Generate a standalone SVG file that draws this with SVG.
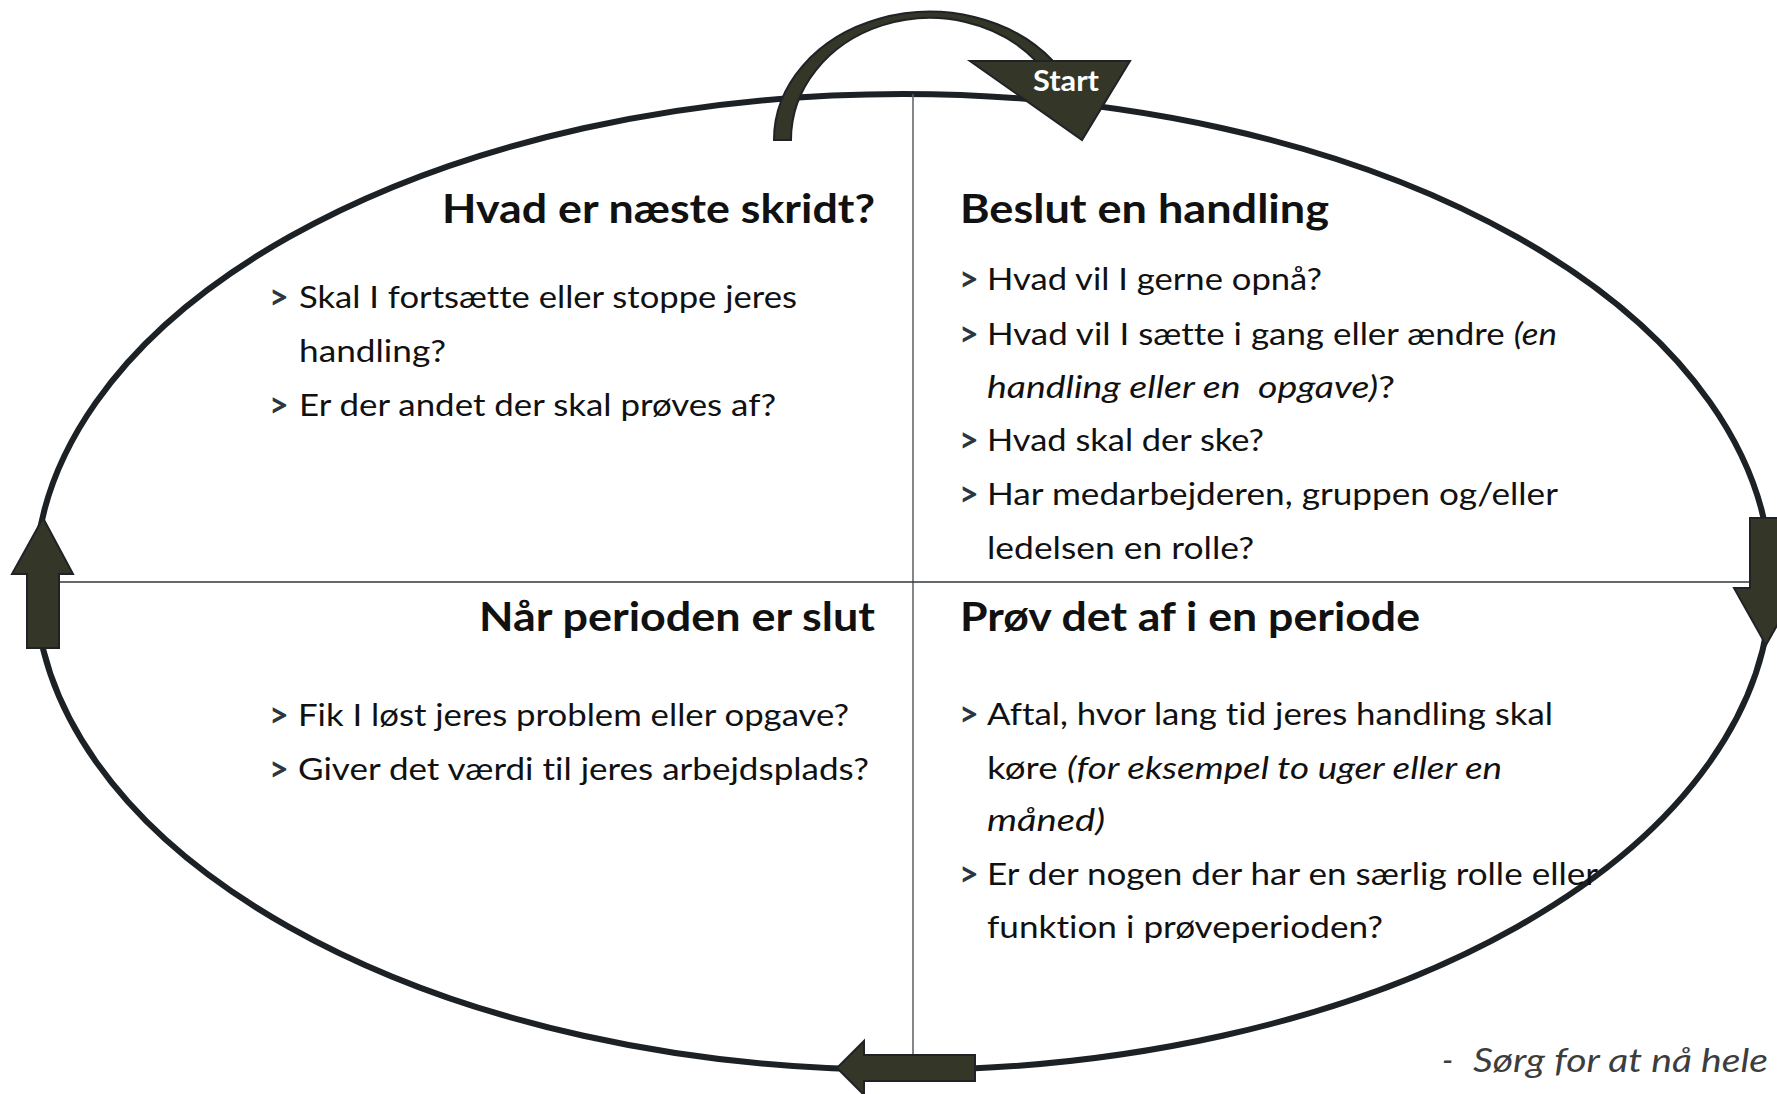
<svg xmlns="http://www.w3.org/2000/svg" width="1777" height="1094" viewBox="0 0 1777 1094">
<style>
text{font-variant-ligatures:none}
.h{font-family:Lato,"Noto Sans",sans-serif;font-weight:700;font-size:41px;fill:#111}
.b{font-family:Lato,"Noto Sans",sans-serif;font-size:31px;fill:#111}
.g{font-family:Lato,"Noto Sans",sans-serif;font-size:34px;font-weight:700;fill:#2d3640}
.i{font-style:italic}
.arr{fill:#343727;stroke:#1f2328;stroke-width:2;stroke-linejoin:miter}
</style>
<rect width="1777" height="1094" fill="#fff"/>
<g id="cycle">
<ellipse cx="903" cy="582" rx="868" ry="488" fill="none" stroke="#1c2126" stroke-width="6"/>
<line x1="913" y1="94" x2="913" y2="1055" stroke="#5a5f63" stroke-width="1.5"/>
<line x1="59" y1="582" x2="1750" y2="582" stroke="#33383c" stroke-width="1.5"/>
</g>
<g id="connectors">
<path class="arr" d="M774,140 A156,128 0 0 1 1053,61 L1036,61 A139,122 0 0 0 791,140 Z"/>
<polygon class="arr" points="43,518 73,574 59,574 59,648 27,648 27,574 12,574"/>
<polygon class="arr" points="1750,518 1782,518 1782,588 1798,588 1766,645 1734,588 1750,588"/>
<polygon class="arr" points="837,1068 864,1041 864,1055 975,1055 975,1081 864,1081 864,1095"/>
</g>
<g id="start">
<polygon class="arr" points="970,61 1130,61 1082,140"/>
<text x="1066" y="91" text-anchor="middle" font-family="Lato,'Noto Sans',sans-serif" font-weight="700" font-size="28" fill="#fff" textLength="66" lengthAdjust="spacingAndGlyphs">Start</text>
</g>
<g id="q-next">
<text class="h" x="442" y="223" textLength="433" lengthAdjust="spacingAndGlyphs">Hvad er næste skridt?</text>
<text class="g" x="269" y="309">&gt;</text><text class="b" x="299" y="308" textLength="498" lengthAdjust="spacingAndGlyphs">Skal I fortsætte eller stoppe jeres</text>
<text class="b" x="299" y="362" textLength="147" lengthAdjust="spacingAndGlyphs">handling?</text>
<text class="g" x="269" y="417">&gt;</text><text class="b" x="299" y="416" textLength="477" lengthAdjust="spacingAndGlyphs">Er der andet der skal prøves af?</text>
</g>
<g id="q-decide">
<text class="h" x="960" y="223" textLength="369" lengthAdjust="spacingAndGlyphs">Beslut en handling</text>
<text class="g" x="959" y="291">&gt;</text><text class="b" x="987" y="290" textLength="335" lengthAdjust="spacingAndGlyphs">Hvad vil I gerne opnå?</text>
<text class="g" x="959" y="346">&gt;</text><text class="b" x="987" y="345" textLength="570" lengthAdjust="spacingAndGlyphs">Hvad vil I sætte i gang eller ændre <tspan class="i">(en</tspan></text>
<text class="b" x="987" y="398" textLength="408" lengthAdjust="spacingAndGlyphs" style="white-space:pre"><tspan class="i">handling eller en  opgave)</tspan>?</text>
<text class="g" x="959" y="452">&gt;</text><text class="b" x="987" y="451" textLength="277" lengthAdjust="spacingAndGlyphs">Hvad skal der ske?</text>
<text class="g" x="959" y="506">&gt;</text><text class="b" x="987" y="505" textLength="571" lengthAdjust="spacingAndGlyphs">Har medarbejderen, gruppen og/eller</text>
<text class="b" x="987" y="559" textLength="267" lengthAdjust="spacingAndGlyphs">ledelsen en rolle?</text>
</g>
<g id="q-end">
<text class="h" x="479" y="631" textLength="396" lengthAdjust="spacingAndGlyphs">Når perioden er slut</text>
<text class="g" x="269" y="727">&gt;</text><text class="b" x="298" y="726" textLength="551" lengthAdjust="spacingAndGlyphs">Fik I løst jeres problem eller opgave?</text>
<text class="g" x="269" y="781">&gt;</text><text class="b" x="298" y="780" textLength="571" lengthAdjust="spacingAndGlyphs">Giver det værdi til jeres arbejdsplads?</text>
</g>
<g id="q-try">
<text class="h" x="960" y="631" textLength="460" lengthAdjust="spacingAndGlyphs">Prøv det af i en periode</text>
<text class="g" x="959" y="726">&gt;</text><text class="b" x="987" y="725" textLength="566" lengthAdjust="spacingAndGlyphs">Aftal, hvor lang tid jeres handling skal</text>
<text class="b" x="987" y="779" textLength="515" lengthAdjust="spacingAndGlyphs">køre <tspan class="i">(for eksempel to uger eller en</tspan></text>
<text class="b i" x="987" y="831" textLength="118" lengthAdjust="spacingAndGlyphs">måned)</text>
<text class="g" x="959" y="886">&gt;</text><text class="b" x="987" y="885" textLength="611" lengthAdjust="spacingAndGlyphs">Er der nogen der har en særlig rolle eller</text>
<text class="b" x="987" y="938" textLength="396" lengthAdjust="spacingAndGlyphs">funktion i prøveperioden?</text>
</g>
<g id="footer">
<text x="1442" y="1072" font-family="Lato,'Noto Sans',sans-serif" font-size="32" font-style="italic" fill="#3d3d3d">-</text>
<text x="1473" y="1072" font-family="Lato,'Noto Sans',sans-serif" font-size="32" font-style="italic" fill="#3d3d3d" textLength="295" lengthAdjust="spacingAndGlyphs">Sørg for at nå hele</text>
</g>
</svg>
